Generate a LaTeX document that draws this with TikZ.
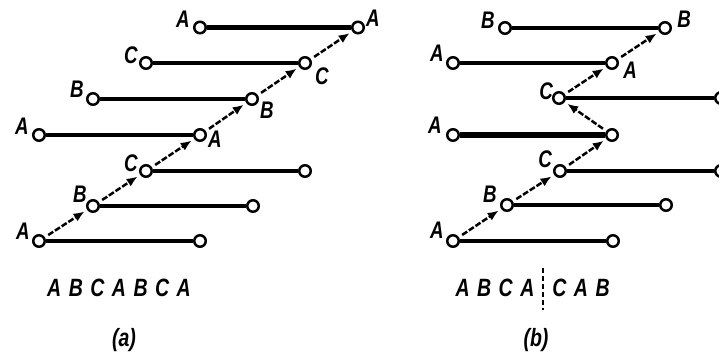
\documentclass[tikz,border=0pt]{standalone}
\usepackage{fontspec}
\usetikzlibrary{arrows.meta}
\newfontfamily\lblfont[FakeStretch=0.78]{Liberation Sans}
\tikzset{
  pin/.style={circle,draw,fill=white,line width=2.5pt,minimum size=11.5pt,inner sep=0pt},
  bar/.style={line width=4.5pt},
  thickbar/.style={line width=6.5pt},
  flow/.style={line width=2.5pt,dash pattern=on 6pt off 2pt,-{Latex[length=11pt,width=9pt]},shorten <=4pt,shorten >=3pt},
  lbl/.style={font=\lblfont\bfseries\itshape\fontsize{24}{27}\selectfont,inner sep=0pt},
  seq/.style={font=\lblfont\bfseries\itshape\fontsize{25}{28}\selectfont,inner sep=0pt,execute at begin node={\spaceskip=7.5pt\relax}},
}
\begin{document}
\begin{tikzpicture}[x=1pt,y=-1pt]
\clip (0,0) rectangle (719,360);
\fill[white] (0,0) rectangle (719,360);
% ---------- (a) ----------
\foreach \n/\l/\r/\y in {1/200/358/27.5, 2/146/305/63, 3/93/252/99, 4/39/200/135, 5/146/305/171, 6/93/253/206, 7/39/200/241}{
  \node[pin] (a\n L) at (\l,\y) {};
  \node[pin] (a\n R) at (\r,\y) {};
}
\foreach \n in {1,...,7}{ \draw[bar] (a\n L) -- (a\n R); }
\draw[flow] (a7L) -- (a6L);
\draw[flow] (a6L) -- (a5L);
\draw[flow] (a5L) -- (a4R);
\draw[flow] (a4R) -- (a3R);
\draw[flow] (a3R) -- (a2R);
\draw[flow] (a2R) -- (a1R);
\node[lbl] (ta1L) at ([shift={(-17,-8)}]a1L) {A};
\node[lbl] (ta1R) at ([shift={(15,-9)}]a1R) {A};
\node[lbl] (ta2L) at ([shift={(-15,-8)}]a2L) {C};
\node[lbl] (ta2R) at ([shift={(17,13)}]a2R) {C};
\node[lbl] (ta3L) at ([shift={(-16,-10)}]a3L) {B};
\node[lbl] (ta3R) at ([shift={(15,11)}]a3R) {B};
\node[lbl] (ta4L) at ([shift={(-17,-9)}]a4L) {A};
\node[lbl] (ta4R) at ([shift={(15,4)}]a4R) {A};
\node[lbl] (ta5L) at ([shift={(-15,-8)}]a5L) {C};
\node[lbl] (ta6L) at ([shift={(-13,-12)}]a6L) {B};
\node[lbl] (ta7L) at ([shift={(-16,-10)}]a7L) {A};
\node[seq] (seqa) at (119,288) {A B C A B C A};
\node[seq] (capa) at (124,340) {(a)};
% ---------- (b) ----------
\foreach \n/\l/\r/\y in {1/505/665/28, 2/453/612/63, 3/559/721/98, 4/453/612/135, 5/560/721/171, 6/507/666/205, 7/453/613/241}{
  \node[pin] (b\n L) at (\l,\y) {};
  \node[pin] (b\n R) at (\r,\y) {};
}
\foreach \n in {1,2,3,5,6,7}{ \draw[bar] (b\n L) -- (b\n R); }
\draw[thickbar] (b4L) -- (b4R);
\draw[flow] (b7L) -- (b6L);
\draw[flow] (b6L) -- (b5L);
\draw[flow] (b5L) -- (b4R);
\draw[flow] (b4R) -- (b3L);
\draw[flow] (b3L) -- (b2R);
\draw[flow] (b2R) -- (b1R);
\node[lbl] (tb1L) at ([shift={(-17,-8)}]b1L) {B};
\node[lbl] (tb1R) at ([shift={(19,-9)}]b1R) {B};
\node[lbl] (tb2L) at ([shift={(-16,-10)}]b2L) {A};
\node[lbl] (tb2R) at ([shift={(18,7)}]b2R) {A};
\node[lbl] (tb3L) at ([shift={(-13,-7)}]b3L) {C};
\node[lbl] (tb4L) at ([shift={(-18,-10)}]b4L) {A};
\node[lbl] (tb5L) at ([shift={(-15,-12)}]b5L) {C};
\node[lbl] (tb6L) at ([shift={(-17,-11)}]b6L) {B};
\node[lbl] (tb7L) at ([shift={(-16,-11)}]b7L) {A};
\node[seq] (seqb1) at (495,288) {A B C A};
\node[seq] (seqb2) at (581,288) {C A B};
\coordinate (divt) at (543,268);
\coordinate (divb) at (543,310);
\draw[line width=1.2pt,dash pattern=on 5pt off 3pt] (divt) -- (divb);
\node[seq] (capb) at (536,340) {(b)};
\end{tikzpicture}
\end{document}
